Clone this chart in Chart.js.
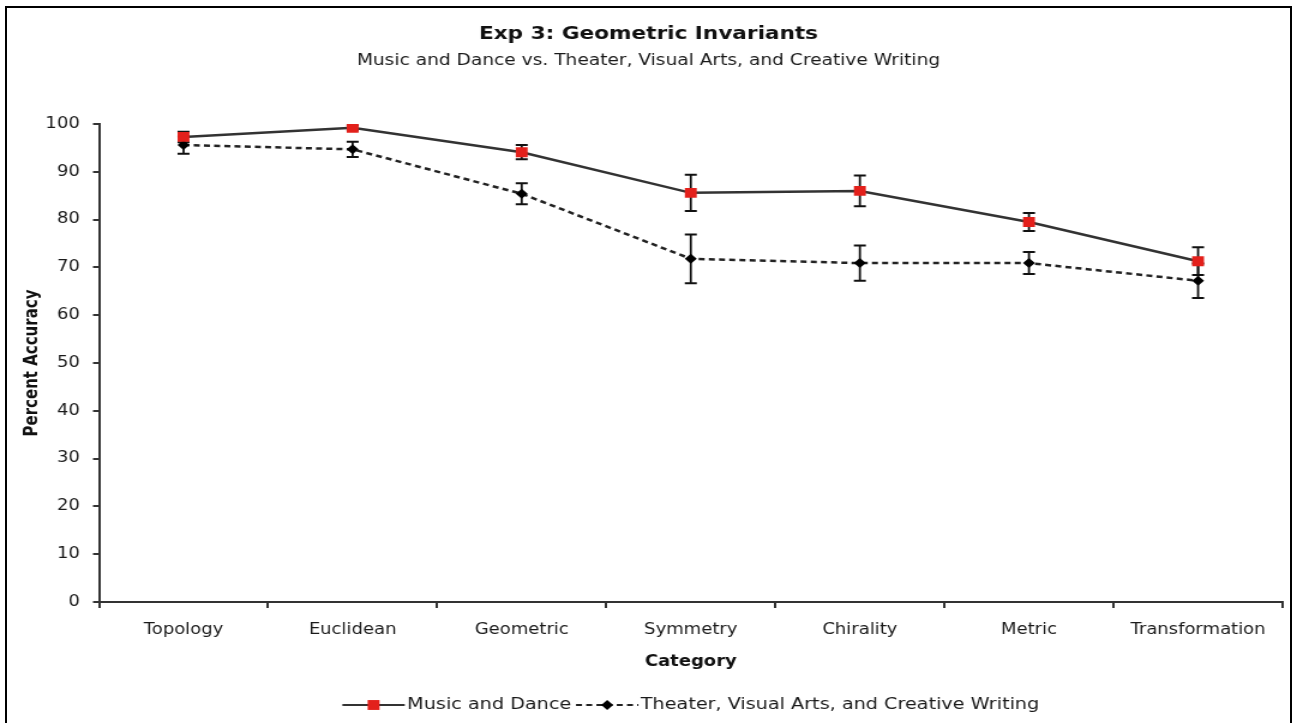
<!DOCTYPE html>
<html>
<head>
<meta charset="utf-8">
<script src="https://cdn.jsdelivr.net/npm/chart.js@4.4.0/dist/chart.umd.min.js"></script>
<style>
  html, body { margin: 0; padding: 0; background: #fff; overflow: hidden; }
  #wrap { position: absolute; left: 0; top: 0; width: 1081px; height: 723px; transform: scaleX(1.19981); transform-origin: 0 0; }
  #frame { position: absolute; left: 5px; top: 6px; width: 1287px; height: 800px; border: 2px solid #000; box-sizing: border-box; pointer-events: none; }
</style>
</head>
<body>
<div id="wrap"><canvas id="myChart"></canvas></div>
<div id="frame"></div>
<script>
// chart values
const categories = ["Topology", "Euclidean", "Geometric", "Symmetry", "Chirality", "Metric", "Transformation"];
const musicDance = [97.3, 99.2, 94.1, 85.6, 86.0, 79.5, 71.3];
const musicDanceErr = [1.1, 0.5, 1.5, 3.8, 3.2, 1.9, 2.9];
const theaterArts = [95.6, 94.7, 85.4, 71.8, 70.9, 70.9, 67.2];
const theaterArtsErr = [1.8, 1.6, 2.2, 5.1, 3.7, 2.3, 3.6];
const seriesNames = ["Music and Dance", "Theater, Visual Arts, and Creative Writing"];

const fontFamily = '"DejaVu Sans", Verdana, sans-serif';
const textColor = "#1a1a1a";

// error bars, drawn under the markers
const errorBars = {
  id: "errorBars",
  beforeDatasetsDraw(chart) {
    const ctx = chart.ctx;
    const yScale = chart.scales.y;
    ctx.save();
    ctx.strokeStyle = "#111";
    chart.data.datasets.forEach((ds, i) => {
      const meta = chart.getDatasetMeta(i);
      meta.data.forEach((pt, j) => {
        const v = ds.data[j];
        const e = ds.errors[j];
        const top = yScale.getPixelForValue(v + e);
        const bottom = yScale.getPixelForValue(v - e);
        ctx.lineWidth = 1.8;
        ctx.beginPath();
        ctx.moveTo(pt.x, top);
        ctx.lineTo(pt.x, bottom);
        ctx.stroke();
        ctx.lineWidth = 2;
        ctx.beginPath();
        ctx.moveTo(pt.x - 5, top);
        ctx.lineTo(pt.x + 5, top);
        ctx.moveTo(pt.x - 5, bottom);
        ctx.lineTo(pt.x + 5, bottom);
        ctx.stroke();
      });
    });
    ctx.restore();
  },
};

// legend under the axis title: line, marker, text
const seriesLegend = {
  id: "seriesLegend",
  afterDraw(chart) {
    const { ctx, chartArea } = chart;
    ctx.save();
    ctx.font = "16px " + fontFamily;
    const symW = 52, gap = 2, itemGap = 4;
    const items = chart.data.datasets.map((ds) => ({ ds: ds, w: ctx.measureText(ds.label).width }));
    const total = items.reduce((s, it) => s + symW + gap + it.w, 0) + itemGap * (items.length - 1);
    let x = (chartArea.left + chartArea.right) / 2 - total / 2;
    const y = 705;
    items.forEach((it) => {
      const ds = it.ds;
      ctx.strokeStyle = ds.borderColor;
      ctx.lineWidth = 2;
      ctx.setLineDash(ds.borderDash || []);
      ctx.beginPath();
      ctx.moveTo(x, y);
      ctx.lineTo(x + symW, y);
      ctx.stroke();
      ctx.setLineDash([]);
      ctx.fillStyle = ds.pointBackgroundColor;
      ctx.strokeStyle = ds.pointBorderColor;
      Chart.helpers.drawPoint(ctx, { pointStyle: ds.pointStyle, radius: ds.pointRadius, borderWidth: 0, rotation: 0 }, x + symW / 2, y);
      ctx.fillStyle = textColor;
      ctx.textBaseline = "middle";
      ctx.textAlign = "left";
      ctx.fillText(ds.label, x + symW + gap, y);
      x += symW + gap + it.w + itemGap;
    });
    ctx.restore();
  },
};

const ctx = document.getElementById("myChart");

new Chart(ctx, {
  type: "line",
  data: {
    labels: categories,
    datasets: [
      {
        label: seriesNames[0],
        data: musicDance,
        errors: musicDanceErr,
        borderColor: "#333",
        borderWidth: 2.5,
        tension: 0,
        pointStyle: "rect",
        pointRadius: 7,
        pointBackgroundColor: "#e3201b",
        pointBorderColor: "#e3201b",
        pointBorderWidth: 0,
      },
      {
        label: seriesNames[1],
        data: theaterArts,
        errors: theaterArtsErr,
        borderColor: "#222",
        borderWidth: 2.5,
        borderDash: [5, 3.5],
        tension: 0,
        pointStyle: "rectRot",
        pointRadius: 5,
        pointBackgroundColor: "#000",
        pointBorderColor: "#000",
        pointBorderWidth: 0,
      },
    ],
  },
  options: {
    responsive: true,
    maintainAspectRatio: false,
    animation: false,
    events: [],
    layout: { padding: { left: 12, right: 12, top: 0, bottom: 0 } },
    plugins: {
      legend: { display: false },
      tooltip: { enabled: false },
      title: {
        display: true,
        text: "Exp 3: Geometric Invariants",
        color: "#111",
        font: { family: fontFamily, size: 18, weight: "bold" },
        padding: { top: 24, bottom: 6 },
      },
      subtitle: {
        display: true,
        text: "Music and Dance vs. Theater, Visual Arts, and Creative Writing",
        color: textColor,
        font: { family: fontFamily, size: 15.5 },
        padding: { top: 0, bottom: 53.8 },
      },
    },
    scales: {
      x: {
        offset: true,
        grid: { offset: true, drawOnChartArea: false, tickLength: 6, color: "#333", lineWidth: 2 },
        border: { color: "#333", width: 2 },
        ticks: { color: textColor, font: { family: fontFamily, size: 15 }, padding: 13, maxRotation: 0 },
        title: {
          display: true,
          text: "Category",
          color: "#111",
          font: { family: fontFamily, size: 15, weight: "bold" },
          padding: { top: 0, bottom: 52 },
        },
        afterFit: function (scale) {
          scale.height = 121;
        },
      },
      y: {
        min: 0,
        max: 100,
        grid: { drawOnChartArea: false, tickLength: 5, color: "#333", lineWidth: 2 },
        border: { color: "#333", width: 2 },
        ticks: { stepSize: 10, color: textColor, font: { family: fontFamily, size: 15 }, padding: 11 },
        title: {
          display: true,
          text: "Percent Accuracy",
          color: "#111",
          font: { family: fontFamily, size: 15, weight: "bold" },
          padding: { top: 6.5, bottom: 0 },
        },
        afterFit: function (scale) {
          scale.width = 70.5;
        },
      },
    },
  },
  plugins: [errorBars, seriesLegend],
});
</script>
</body>
</html>
